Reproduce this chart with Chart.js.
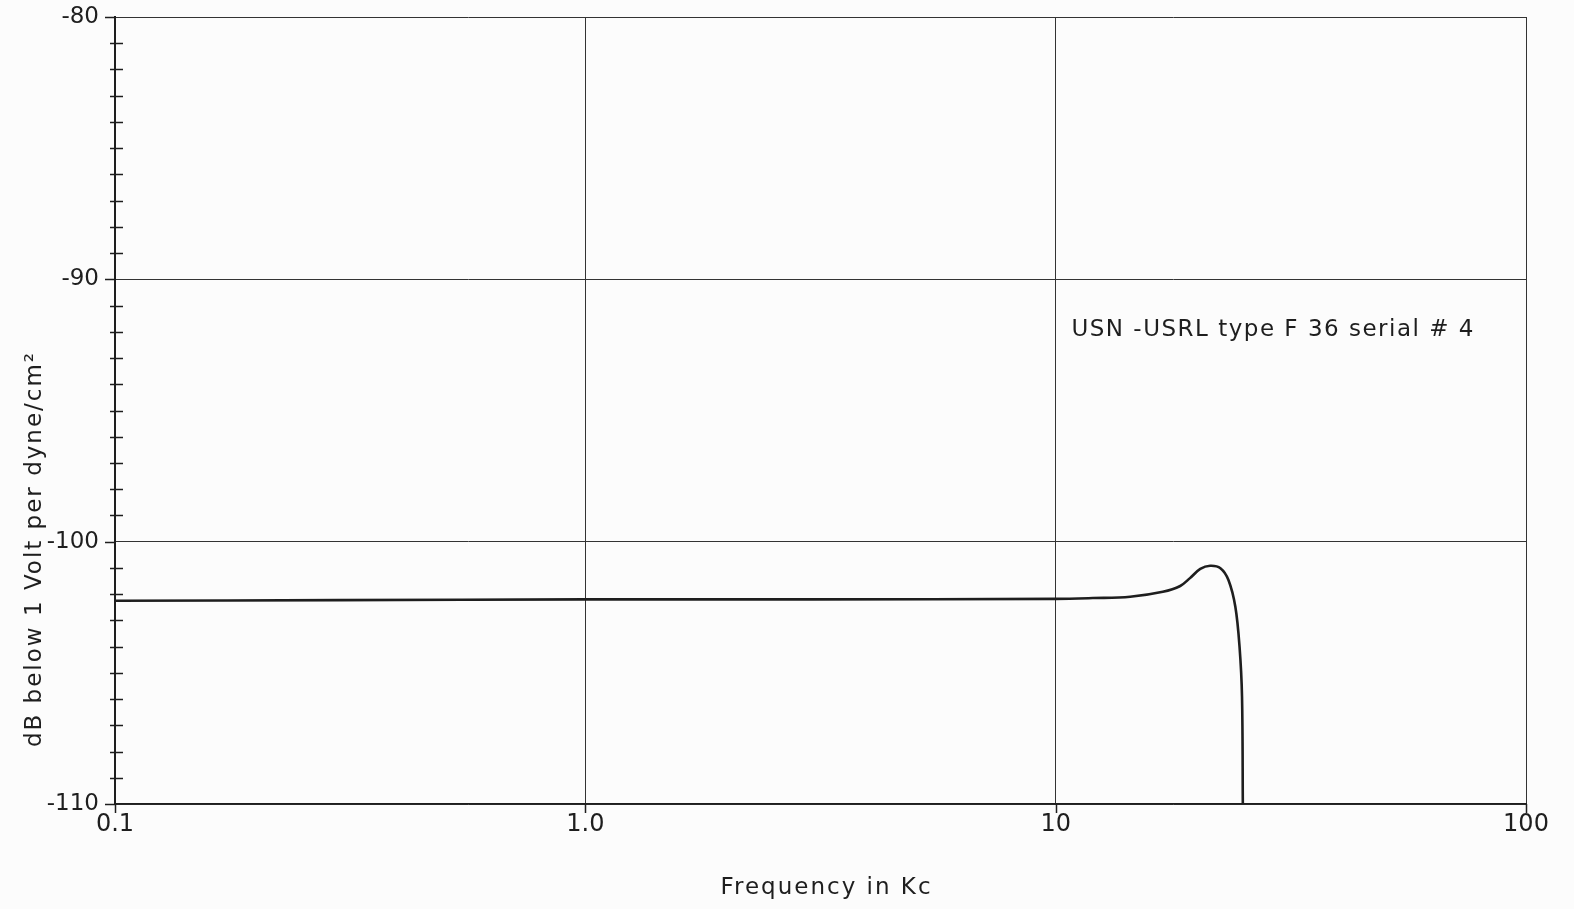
<!DOCTYPE html>
<html>
<head>
<meta charset="utf-8">
<script src="https://cdn.jsdelivr.net/npm/chart.js@4"></script>
<style>
  html, body { margin: 0; padding: 0; background: #fcfcfc; }
  canvas { display: block; }
</style>
</head>
<body>
<canvas id="response-chart" width="1574" height="909"></canvas>
<script>
// --- Data ---
const freqKc = [0.1, 0.3, 1, 3, 10, 12, 14.4, 16.9, 18.4, 19.3, 20.3, 21.3, 22.4, 23.3, 24.1, 24.6, 24.9, 25.0];
const levelDb = [-102.25, -102.23, -102.2, -102.2, -102.18, -102.15, -102.1, -101.91, -101.69, -101.39, -101.04, -100.92, -101.01, -101.46, -102.48, -104.0, -105.9, -110];

const xTicks = [0.1, 1, 10, 100];
const xTickLabels = ['0.1', '1.0', '10', '100'];

const yMin = -110;
const yMax = -80;

const xTitle = 'Frequency in Kc';
const yTitle = 'dB below 1 Volt per dyne/cm\u00B2';
const noteText = 'USN -USRL type F 36 serial # 4';

const ink = '#1e1e1e';
const fontFamily = '"DejaVu Sans", sans-serif';

// --- Hand drawn bits: tick marks crossing the axis, titles and the note ---
const plotExtras = {
    id: 'plotExtras',
    afterDraw(chart) {
        const { ctx, chartArea, scales } = chart;
        const x = scales.x, y = scales.y;
        ctx.save();
        ctx.strokeStyle = ink;
        ctx.lineWidth = 1.5;
        ctx.beginPath();
        for (let v = yMin; v <= yMax; v++) {
            const py = Math.round(y.getPixelForValue(v)) + 0.5;
            if (v % 10 === 0) {
                ctx.moveTo(chartArea.left - 10, py);
                ctx.lineTo(chartArea.left, py);
            } else {
                ctx.moveTo(chartArea.left - 5, py);
                ctx.lineTo(chartArea.left + 8, py);
            }
        }
        xTicks.forEach(v => {
            const px = Math.round(x.getPixelForValue(v)) + 0.5;
            ctx.moveTo(px, chartArea.bottom);
            ctx.lineTo(px, chartArea.bottom + 9);
        });
        ctx.stroke();

        ctx.fillStyle = ink;
        ctx.textBaseline = 'middle';

        // x title
        ctx.textAlign = 'center';
        ctx.font = '23px ' + fontFamily;
        ctx.letterSpacing = '2px';
        ctx.fillText(xTitle, (chartArea.left + chartArea.right) / 2 + 6, 888);

        // note
        ctx.textAlign = 'left';
        ctx.font = '23px ' + fontFamily;
        ctx.letterSpacing = '1.5px';
        ctx.fillText(noteText, x.getPixelForValue(10.8), y.getPixelForValue(-91.95));

        // y title
        ctx.translate(35, 549);
        ctx.rotate(-Math.PI / 2);
        ctx.textAlign = 'center';
        ctx.font = '23px ' + fontFamily;
        ctx.letterSpacing = '2px';
        ctx.fillText(yTitle, 0, 0);
        ctx.restore();
    }
};

const chart = new Chart(document.getElementById('response-chart'), {
    type: 'line',
    data: {
        datasets: [{
            data: freqKc.map((f, i) => ({ x: f, y: levelDb[i] })),
            borderColor: ink,
            borderWidth: 2.6,
            pointRadius: 0,
            tension: 0.35,
            fill: false
        }]
    },
    options: {
        responsive: false,
        animation: false,
        layout: { padding: { left: 0, top: 17, right: 48, bottom: 0 } },
        plugins: { legend: { display: false }, tooltip: { enabled: false } },
        scales: {
            x: {
                type: 'logarithmic',
                min: 0.1,
                max: 100,
                afterBuildTicks: scale => { scale.ticks = xTicks.map(v => ({ value: v })); },
                afterFit: scale => {
                    scale.height = 105;
                    scale.paddingLeft = 0;
                    scale.paddingRight = 0;
                },
                ticks: {
                    autoSkip: false,
                    maxRotation: 0,
                    padding: 6,
                    color: ink,
                    font: { family: fontFamily, size: 24 },
                    callback: (value, index) => xTickLabels[index]
                },
                grid: { color: '#333', lineWidth: 1, drawTicks: false },
                border: { color: ink, width: 1.5 }
            },
            y: {
                min: yMin,
                max: yMax,
                afterFit: scale => {
                    scale.width = 115;
                    scale.paddingTop = 0;
                    scale.paddingBottom = 0;
                },
                ticks: {
                    stepSize: 1,
                    autoSkip: false,
                    padding: 16,
                    color: ink,
                    font: { family: fontFamily, size: 23 },
                    callback: value => (value % 10 === 0 ? String(value) : '')
                },
                grid: {
                    drawTicks: false,
                    lineWidth: 1,
                    color: c => (c.tick && c.tick.value % 10 === 0 ? '#333' : 'rgba(0,0,0,0)')
                },
                border: { color: ink, width: 2 }
            }
        }
    },
    plugins: [plotExtras]
});
</script>
</body>
</html>
